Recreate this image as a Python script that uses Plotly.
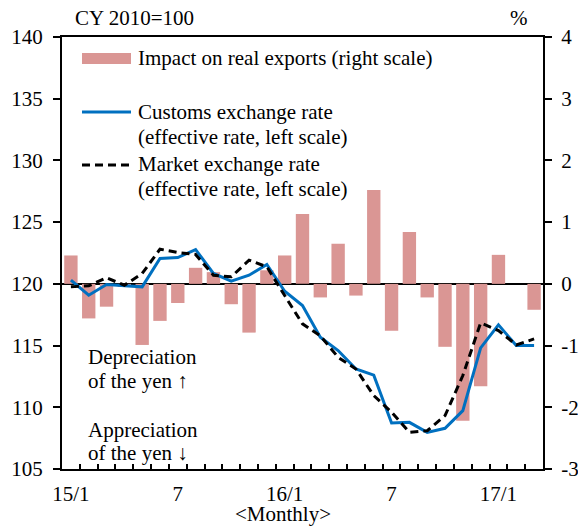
import plotly.graph_objects as go

# months 2015/1 .. 2017/3
months = [f"15/{m}" for m in range(1, 13)] + [f"16/{m}" for m in range(1, 13)] + [f"17/{m}" for m in range(1, 4)]
month_labels = {"15/1": "15/1", "15/7": "7", "16/1": "16/1", "16/7": "7", "17/1": "17/1"}

# right-scale ticks (plain hyphen minus, as in the original)
pct_ticks = [-3, -2, -1, 0, 1, 2, 3, 4]
pct_labels = ["-3", "-2", "-1", "0", "1", "2", "3", "4"]

# impact on real exports, % (right scale)
impact = [0.46, -0.56, -0.37, -0.05, -0.99, -0.60, -0.31, 0.26, 0.19, -0.33, -0.79, 0.22,
          0.46, 1.13, -0.22, 0.65, -0.19, 1.52, -0.76, 0.84, -0.22, -1.02, -2.22, -1.66,
          0.47, 0.0, -0.42]

# customs exchange rate, effective, CY2010=100 (left scale)
customs = [120.30, 119.08, 119.95, 119.84, 119.76, 122.05, 122.13, 122.78, 120.84, 120.22, 120.70, 121.57,
           119.40, 118.24, 115.68, 114.60, 113.10, 112.60, 108.73, 108.78, 107.97, 108.30, 109.73, 114.81,
           116.68, 115.00, 115.00]

# market exchange rate, effective, CY2010=100 (left scale)
market = [119.76, 119.84, 120.49, 119.89, 120.84, 122.81, 122.54, 122.38, 120.70, 120.57, 121.92, 121.38,
          119.05, 116.76, 115.80, 114.05, 113.10, 110.95, 109.60, 107.97, 108.10, 109.32, 112.57, 116.84,
          116.22, 115.05, 115.54]

FONT = "Liberation Serif, Times New Roman, serif"
BAR_COLOR = "#DA9694"
BLUE = "#0070C0"
FS = 21

# plot area in pixels
L, R, T, B = 62, 543, 37, 469

fig = go.Figure()

# bars on the primary (right-side) axis so the lines overlay them
fig.add_trace(go.Bar(x=months, y=impact, marker=dict(color=BAR_COLOR, line=dict(width=0)),
                     width=0.75, yaxis="y", showlegend=False))
fig.add_trace(go.Scatter(x=months, y=customs, mode="lines", yaxis="y2",
                         line=dict(color=BLUE, width=3), showlegend=False))
fig.add_trace(go.Scatter(x=months, y=market, mode="lines", yaxis="y2",
                         line=dict(color="black", width=3, dash="8px,5px"), showlegend=False))


def px_x(px):
    return (px - L) / (R - L)


def px_y(py):
    return (B - py) / (B - T)


shapes = [
    dict(type="rect", xref="paper", yref="paper", x0=px_x(82), x1=px_x(131), y0=px_y(64), y1=px_y(53),
         fillcolor=BAR_COLOR, line=dict(width=0)),
    dict(type="line", xref="paper", yref="paper", x0=px_x(82), x1=px_x(131), y0=px_y(112), y1=px_y(112),
         line=dict(color=BLUE, width=3)),
    dict(type="line", xref="paper", yref="paper", x0=px_x(82), x1=px_x(131), y0=px_y(165), y1=px_y(165),
         line=dict(color="black", width=3, dash="8px,5px")),
]

texts = [
    ("Impact on real exports (right scale)", 136, 58, "left"),
    ("Customs exchange rate", 136, 112, "left"),
    ("(effective rate, left scale)", 136, 137, "left"),
    ("Market exchange rate", 136, 164, "left"),
    ("(effective rate, left scale)", 136, 189, "left"),
    ("Depreciation", 86, 357, "left"),
    ("of the yen \u2191", 86, 381, "left"),
    ("Appreciation", 86, 430, "left"),
    ("of the yen \u2193", 86, 453, "left"),
    ("CY 2010=100", 73, 18, "left"),
    ("%", 519, 18, "center"),
    ("&lt;Monthly&gt;", 283, 514, "center"),
]
annotations = [
    dict(text=t, x=px_x(x), y=px_y(y), xref="paper", yref="paper", xanchor=anchor, yanchor="middle",
         showarrow=False, font=dict(family=FONT, size=FS, color="black"))
    for t, x, y, anchor in texts
]

axis_common = dict(
    showline=True,
    linecolor="black",
    linewidth=2,
    showgrid=False,
    tickcolor="black",
    tickwidth=1.5,
    automargin=False,
    tickfont=dict(family=FONT, size=FS, color="black"),
)

fig.update_layout(
    width=578,
    height=526,
    margin=dict(l=L, r=578 - R, t=T, b=526 - B, pad=0),
    paper_bgcolor="white",
    plot_bgcolor="white",
    font=dict(family=FONT, size=FS, color="black"),
    xaxis=dict(
        type="category",
        tickmode="array",
        tickvals=months,
        ticktext=[month_labels.get(m, "") for m in months],
        tickson="boundaries",
        tickangle=0,
        ticks="inside",
        ticklen=5,
        mirror=True,
        range=[-0.5, 26.5],
        ticklabelstandoff=5,
        **axis_common,
    ),
    yaxis=dict(
        side="right",
        range=[-3, 4],
        tickmode="array",
        tickvals=pct_ticks,
        ticktext=pct_labels,
        ticks="outside",
        ticklen=7,
        zeroline=True,
        zerolinecolor="black",
        zerolinewidth=1.5,
        ticklabelstandoff=5,
        **axis_common,
    ),
    yaxis2=dict(
        side="left",
        overlaying="y",
        range=[105, 140],
        dtick=5,
        ticks="outside",
        ticklen=7,
        zeroline=False,
        ticklabelstandoff=6,
        **axis_common,
    ),
    shapes=shapes,
    annotations=annotations,
)

# drop the page's default body margin so the figure sits at the window's corner
fig.write_html("out.html", config={"displayModeBar": False},
               post_script="document.body.style.margin = '0';")
